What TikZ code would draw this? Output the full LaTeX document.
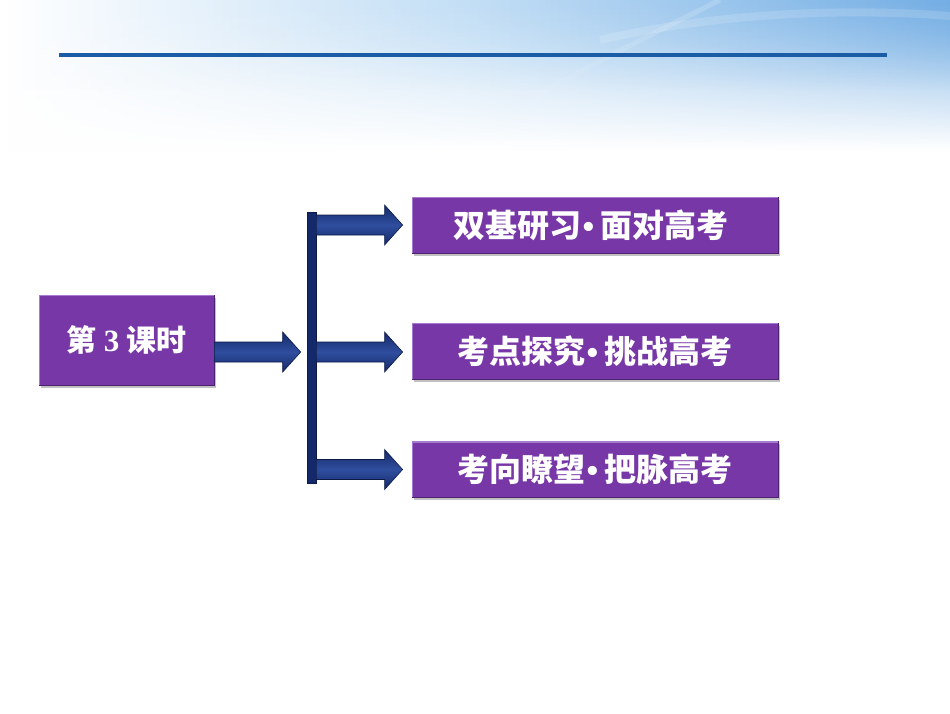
\documentclass[tikz,border=0pt]{standalone}
\usepackage{fontspec}
\setmainfont{Liberation Serif}
\newfontfamily\cjk{Noto Sans CJK SC}
\newfontfamily\bulfont{Liberation Sans}
\usetikzlibrary{fadings,shadows,calc}
\definecolor{skyb}{HTML}{74AEE4}
\definecolor{skym}{HTML}{C2DEF5}
\definecolor{linecol}{HTML}{1A5CA6}
\definecolor{purp}{HTML}{7737A7}
\definecolor{purplight}{HTML}{A67BD0}
\definecolor{purpdark}{HTML}{4E2272}
\definecolor{navya}{HTML}{14296A}
\definecolor{navyb}{HTML}{2F4E9E}
\definecolor{navyd}{HTML}{0C1A48}
\tikzfading[name=fadedown, top color=transparent!0, bottom color=transparent!100]
\tikzfading[name=fadeswoosh, left color=transparent!100, right color=transparent!0]
\newcommand\bul{{\bulfont\bfseries\kern1pt•\kern6pt}}
\tikzset{
  pbox/.style={rectangle, fill=purp, draw=purpdark, line width=0.8pt, text=white,
    font=\cjk\bfseries\fontsize{32}{36}\selectfont, inner sep=0pt,
    drop shadow={shadow xshift=2pt, shadow yshift=-2.5pt, opacity=0.35, fill=black!70}},
  rbox/.style={pbox, minimum width=366pt, minimum height=56pt},
  barbox/.style={rectangle, fill=navya, draw=navyd, line width=0.6pt, inner sep=0pt,
    minimum width=9pt, minimum height=271pt},
  blk/.style={top color=navya, bottom color=navya, middle color=navyb, draw=navyd, line width=0.6pt},
  bevel/.style={purplight, line width=1.4pt}
}
\newcommand\blkarrow[2]{%
  \path let \p1=(#1), \p2=(#2) in [shade, blk]
    (\x1,\y1+10pt) -- (\x2-18pt,\y1+10pt) -- (\x2-18pt,\y1+20pt) -- (\x2,\y1)
    -- (\x2-18pt,\y1-20pt) -- (\x2-18pt,\y1-10pt) -- (\x1,\y1-10pt) -- cycle;}
\newcommand\bevelit[1]{%
  \draw[bevel] ([xshift=0.7pt,yshift=0.7pt]#1.south west) -- ([xshift=0.7pt,yshift=-0.7pt]#1.north west) -- ([xshift=-0.7pt,yshift=-0.7pt]#1.north east);}
\begin{document}
\begin{tikzpicture}[x=1pt,y=-1pt]
\useasboundingbox (0,0) rectangle (950,713);
\fill[white] (0,0) rectangle (950,713);
% background sky
\shade[left color=white, right color=skyb, middle color=skym, path fading=fadedown] (0,0) rectangle (950,150);
\shade[left color=white, right color=skyb, middle color=skym, path fading=fadedown, opacity=0.6] (0,0) rectangle (950,90);
\draw[white, opacity=0.18, line width=5pt, path fading=fadeswoosh] (470,135) .. controls (560,80) and (640,40) .. (720,0);
\draw[white, opacity=0.15, line width=8pt] (600,40) .. controls (720,12) and (850,8) .. (950,16);
% title rule
\coordinate (r1) at (59,55);
\coordinate (r2) at (887,55);
\draw[linecol, line width=4pt] (r1) -- (r2);
% nodes
\node[pbox, minimum width=175pt, minimum height=90pt, font=\cjk\bfseries\fontsize{30}{34}\selectfont] (main) at (126.5,340) {\raisebox{-4pt}{第\kern7pt{\rmfamily\bfseries\fontsize{31}{34}\selectfont 3}\kern7pt课时}};
\node[barbox] (bar) at (311.5,347.5) {};
\node[rbox] (b1) at (595,225) {双基研习\bul 面对高考\kern8pt};
\node[rbox] (b2) at (595,351) {考点探究\bul 挑战高考};
\node[rbox] (b3) at (595,469.5) {考向瞭望\bul 把脉高考};
\bevelit{main}\bevelit{b1}\bevelit{b2}\bevelit{b3}
% connectors
\coordinate (ms) at ($(main.east)+(0,12)$);
\coordinate (mt) at ($(bar.west |- ms)+(-6,0)$);
\blkarrow{ms}{mt}
\coordinate (s1) at (bar.east |- b1.west);
\coordinate (t1) at ($(b1.west)+(-9,0)$);
\blkarrow{s1}{t1}
\coordinate (s2) at ($(bar.east |- b2.west)+(0,1)$);
\coordinate (t2) at ($(b2.west)+(-9,1)$);
\blkarrow{s2}{t2}
\coordinate (s3) at (bar.east |- b3.west);
\coordinate (t3) at ($(b3.west)+(-9,0)$);
\blkarrow{s3}{t3}
\end{tikzpicture}
\end{document}
